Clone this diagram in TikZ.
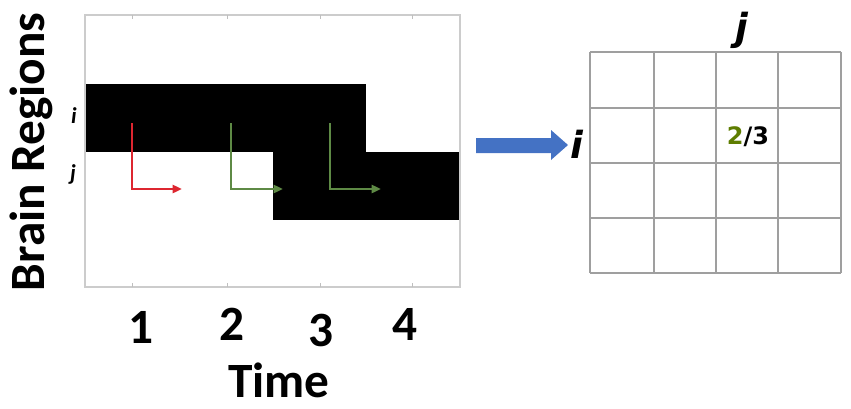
\documentclass[tikz,border=0pt]{standalone}
\usepackage{fontspec}
\setmainfont{Carlito}
\newfontfamily\dvsans{DejaVu Sans}
\usetikzlibrary{arrows.meta}
\definecolor{stepred}{HTML}{DD2630}
\definecolor{stepgreen}{HTML}{5E8A45}
\definecolor{cntgreen}{HTML}{5E7D00}
\definecolor{flowblue}{HTML}{4472C4}
\tikzset{
    stepline/.style={line width=2pt, -{Triangle[length=7pt,width=6pt]}},
    bigtext/.style={font=\fontsize{37}{40}\selectfont\bfseries, inner sep=0pt},
    gridtext/.style={font=\dvsans\fontsize{28}{30}\selectfont\bfseries\itshape, inner sep=0pt},
    rowtext/.style={font=\fontsize{17}{18}\selectfont\bfseries\itshape, inner sep=0pt},
}
\begin{document}
\begin{tikzpicture}[x=0.75pt, y=-0.75pt]
    \useasboundingbox (0,0) rectangle (851,408);

    % raster plot
    \fill[black] (85,84) rectangle (366,152);
    \fill[black] (273,152) rectangle (460,220);
    \draw[gray!40, line width=0.9pt] (85,15) rectangle (460,287);
    \foreach \tx in {132,227,320,412} {
        \draw[gray!50, line width=0.6pt] (\tx,15) -- (\tx,19);
        \draw[gray!50, line width=0.6pt] (\tx,287) -- (\tx,283);
    }
    \coordinate (r1) at (132,123); \coordinate (r2) at (132,189); \coordinate (r3) at (182,189);
    \coordinate (g1) at (231,123); \coordinate (g2) at (231,189); \coordinate (g3) at (283,189);
    \coordinate (h1) at (330,123); \coordinate (h2) at (330,189); \coordinate (h3) at (381,189);
    \draw[stepline, stepred] (r1) -- (r2) -- (r3);
    \draw[stepline, stepgreen] (g1) -- (g2) -- (g3);
    \draw[stepline, stepgreen] (h1) -- (h2) -- (h3);

    \node[rowtext] (rowi) at (74,116) {i};
    \node[rowtext] (rowj) at (73,174) {j};
    \node[bigtext, rotate=90] (ylab) at (31,152) {Brain Regions};

    \node[bigtext, anchor=base] (t1) at (141,343) {1};
    \node[bigtext, anchor=base] (t2) at (232,340) {2};
    \node[bigtext, anchor=base] (t3) at (321,346) {3};
    \node[bigtext, anchor=base] (t4) at (405,340) {4};
    \node[bigtext, anchor=base] (tlab) at (279,397) {Time};

    % blue arrow
    \fill[flowblue] (476,138) -- (551,138) -- (551,130) -- (568,145)
        -- (551,160) -- (551,153) -- (476,153) -- cycle;

    % count matrix
    \foreach \gx in {590,654,716,778,841}
        \draw[gray!75, line width=1pt] (\gx,52) -- (\gx,273);
    \foreach \gy in {52,108,163,218,273}
        \draw[gray!75, line width=1pt] (590,\gy) -- (841,\gy);
    \node[gridtext] (mi) at (577,144) {i};
    \node[gridtext] (mj) at (742,30) {j};
    \node[font=\dvsans\fontsize{18}{20}\selectfont\bfseries, inner sep=0pt] (cnt) at (748,137)
        {\textcolor{cntgreen}{2}/3};
\end{tikzpicture}
\end{document}
